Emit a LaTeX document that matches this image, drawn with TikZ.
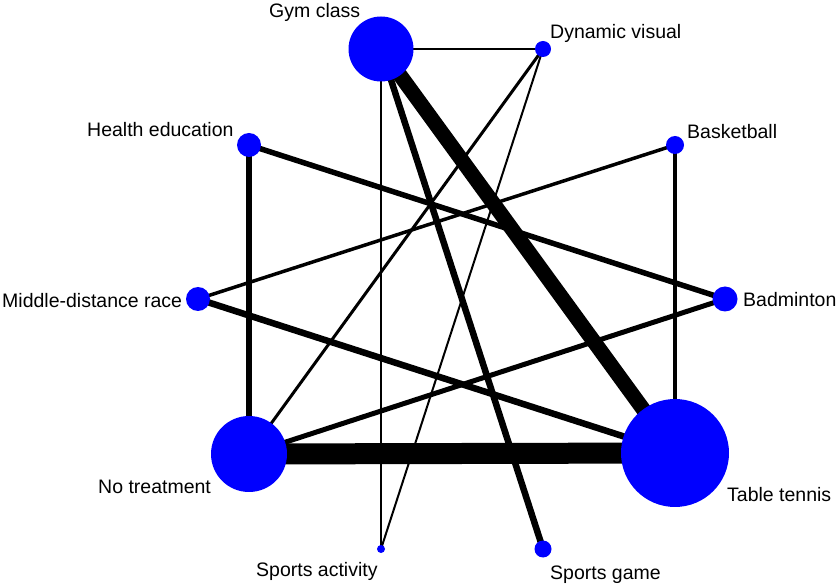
\documentclass[tikz,border=0pt]{standalone}
\usepackage{fontspec}
\setmainfont{Liberation Sans}
\usetikzlibrary{backgrounds}
\definecolor{nodeblue}{RGB}{0,0,255}
\begin{document}
\begin{tikzpicture}[x=1pt,y=-1pt,
  dot/.style={circle,fill=nodeblue,draw=none,inner sep=0pt,minimum size=#1},
  lab/.style={inner sep=0pt,anchor=base west,font=\fontsize{19.5}{22}\selectfont},
  edge/.style={draw=black,line width=#1}]
\useasboundingbox (0,0) rectangle (839,585);
% treatment nodes
\node[dot=65pt]  (gym) at (381,49) {};
\node[dot=16pt]  (dyn) at (543,49) {};
\node[dot=24pt]  (hea) at (249,145) {};
\node[dot=18pt]  (bas) at (675,145) {};
\node[dot=24pt]  (mid) at (198,299) {};
\node[dot=25pt]  (bad) at (725,299) {};
\node[dot=76pt]  (not) at (249,454) {};
\node[dot=108pt] (tab) at (675,453) {};
\node[dot=8pt]   (act) at (381,549) {};
\node[dot=17pt]  (gam) at (543,549) {};
% labels
\node[lab] (lgym) at (269,17.3) {Gym class};
\node[lab] (ldyn) at (550,38.3) {Dynamic visual};
\node[lab] (lhea) at (87,136.7) {Health education};
\node[lab] (lbas) at (687,138.3) {Basketball};
\node[lab] (lmid) at (2,307.3) {Middle-distance race};
\node[lab] (lbad) at (743,306.7) {Badminton};
\node[lab] (lnot) at (98,494) {No treatment};
\node[lab] (ltab) at (727,501.7) {Table tennis};
\node[lab] (lact) at (256,576.7) {Sports activity};
\node[lab] (lgam) at (550,579) {Sports game};
% connections
\begin{scope}[on background layer]
\fill[white] (0,0) rectangle (839,585);
\path[edge=1.5pt] (gym.center) -- (dyn.center);
\path[edge=1.5pt] (gym.center) -- (act.center);
\path[edge=15pt]  (gym.center) -- (tab.center);
\path[edge=6.5pt] (gym.center) -- (gam.center);
\path[edge=3pt]   (dyn.center) -- (not.center);
\path[edge=2pt]   (dyn.center) -- (act.center);
\path[edge=6pt]   (hea.center) -- (not.center);
\path[edge=5.5pt] (hea.center) -- (bad.center);
\path[edge=3.5pt] (bas.center) -- (mid.center);
\path[edge=3.5pt] (bas.center) -- (tab.center);
\path[edge=6.5pt] (mid.center) -- (tab.center);
\path[edge=5pt]   (bad.center) -- (not.center);
\path[edge=21pt]  (not.center) -- (tab.center);
\end{scope}
\end{tikzpicture}
\end{document}
